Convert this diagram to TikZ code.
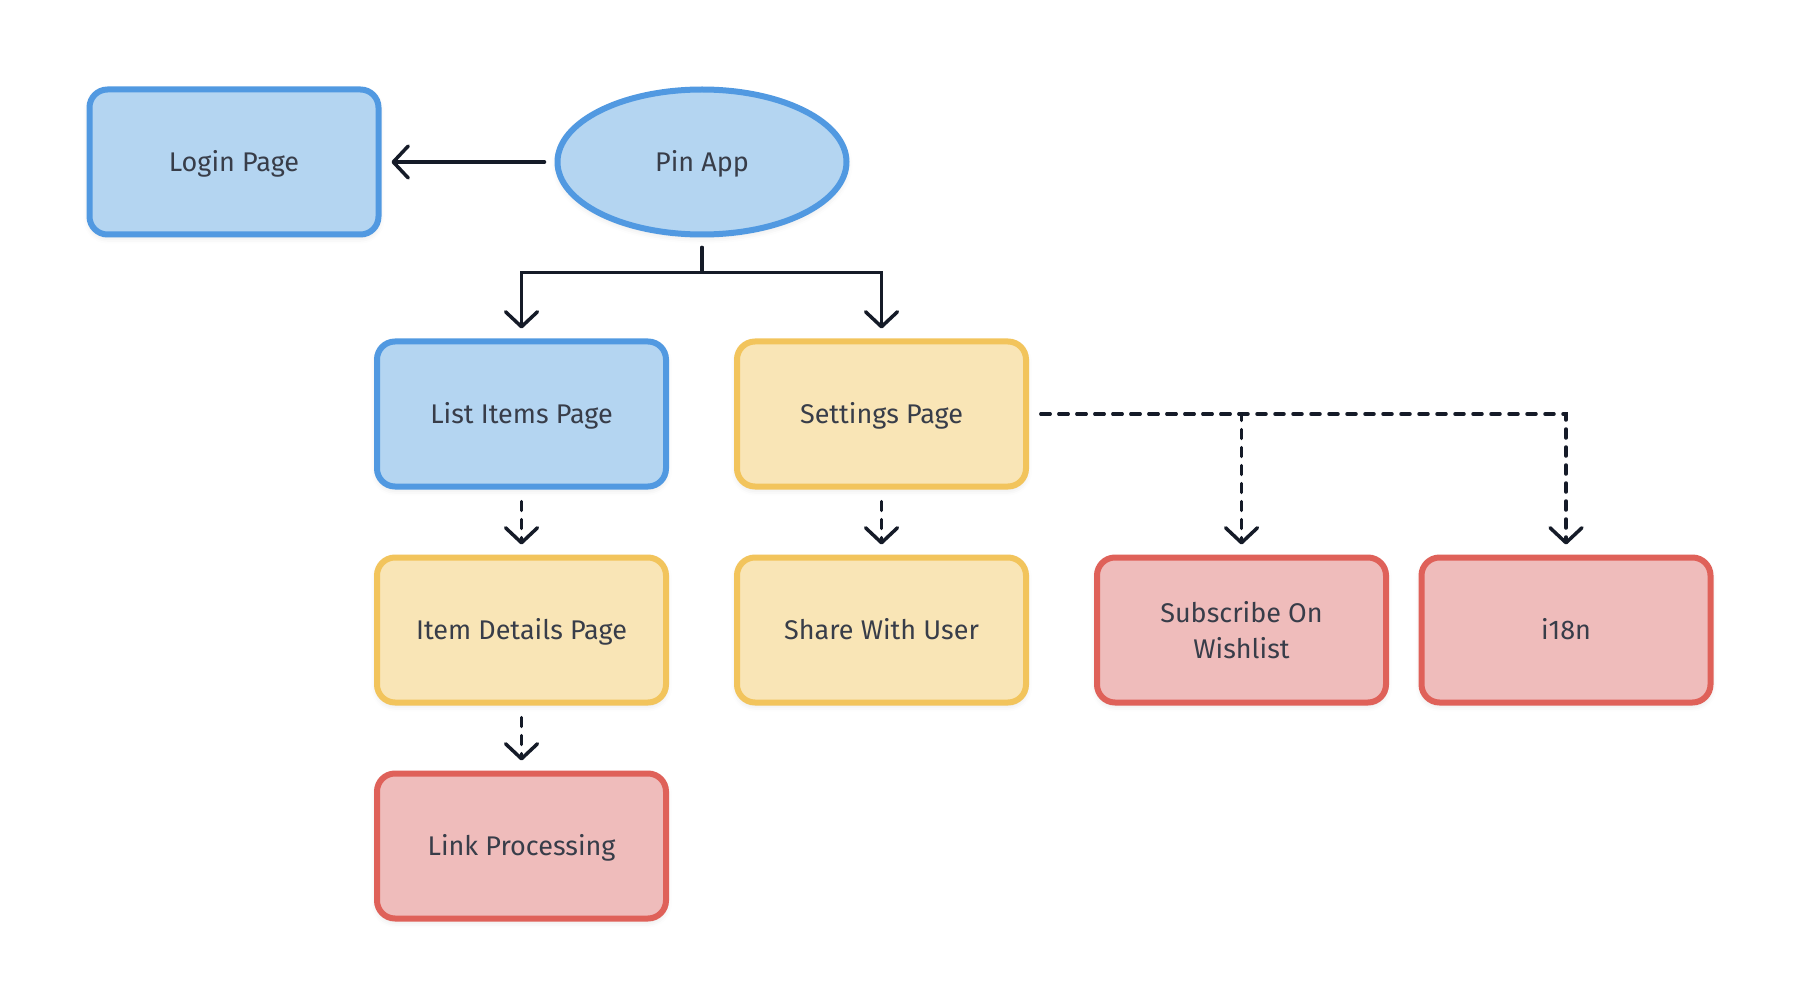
\documentclass[tikz,border=0pt]{standalone}
\usepackage{fontspec}
\setmainfont{Fira Sans}
\usetikzlibrary{arrows.meta,shapes.geometric,shadows.blur}
\definecolor{bluefill}{HTML}{B4D5F1}
\definecolor{blueline}{HTML}{5199E1}
\definecolor{yelfill}{HTML}{F9E5B6}
\definecolor{yelline}{HTML}{F2C45C}
\definecolor{redfill}{HTML}{EFBCBB}
\definecolor{redline}{HTML}{DF6159}
\definecolor{ink}{HTML}{151B28}
\definecolor{txt}{HTML}{383D49}
\tikzset{
  base/.style={minimum width=289pt, minimum height=145pt, line width=6pt,
    text=txt, align=center, inner sep=0pt,
    font=\fontsize{27}{36}\selectfont,
    blur shadow={shadow xshift=0pt, shadow yshift=-3pt, shadow blur radius=6pt, shadow opacity=12}},
  oneline/.style={text height=19pt, text depth=0pt},
  boxnode/.style={base, rectangle, rounded corners=18pt},
  ellnode/.style={base, ellipse},
  bluec/.style={fill=bluefill, draw=blueline},
  yelc/.style={fill=yelfill, draw=yelline},
  redc/.style={fill=redfill, draw=redline},
  conn/.style={draw=ink, line width=3.5pt, line cap=round, line join=miter,
    -{Straight Barb[length=15pt, width=32pt, line width=3.5pt, line cap=round, round]}},
  dconn/.style={conn, dash pattern=on 9pt off 9pt}
}
\begin{document}
\begin{tikzpicture}[x=1pt,y=-1pt]
\useasboundingbox (0,0) rectangle (1800,1008);
\node[boxnode,bluec,oneline] (login) at (234,162) {Login Page};
\node[ellnode,bluec,oneline] (pin) at (702,162) {Pin App};
\node[boxnode,bluec,oneline] (list) at (521.5,414) {List Items Page};
\node[boxnode,yelc,oneline] (settings) at (881.5,414) {Settings Page};
\node[boxnode,yelc,oneline] (item) at (521.5,630) {Item Details Page};
\node[boxnode,yelc,oneline] (share) at (881.5,630) {Share With User};
\node[boxnode,redc] (subscribe) at (1241.5,630) {Subscribe On\\Wishlist};
\node[boxnode,redc,oneline] (i18n) at (1566,630) {i18n};
\node[boxnode,redc,oneline] (link) at (521.5,846) {Link Processing};

\draw[conn, shorten <=10pt, shorten >=10pt] (pin.west) -- (login.east);
\draw[conn] ([yshift=-10pt]pin.south) -- ++(0,25) -| ([yshift=10pt]list.north);
\draw[conn] ([yshift=-10pt]pin.south) -- ++(0,25) -| ([yshift=10pt]settings.north);
\draw[dconn, shorten <=12pt, shorten >=10pt] (list.south) -- (item.north);
\draw[dconn, shorten <=12pt, shorten >=10pt] (settings.south) -- (share.north);
\draw[dconn, shorten <=12pt, shorten >=10pt] (item.south) -- (link.north);
\draw[dconn] ([xshift=12pt]settings.east) -| ([yshift=10pt]subscribe.north);
\draw[dconn] ([xshift=12pt]settings.east) -| ([yshift=10pt]i18n.north);
\end{tikzpicture}
\end{document}
